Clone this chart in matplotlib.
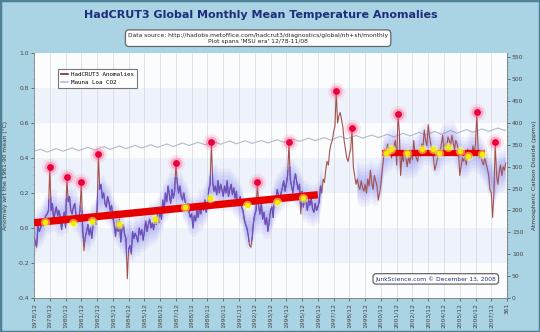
import numpy as np
import pandas as pd
import matplotlib
matplotlib.use("Agg")
import matplotlib.pyplot as plt
from matplotlib.patches import Rectangle
from matplotlib.lines import Line2D
from matplotlib.ticker import MultipleLocator

plt.rcParams['axes.unicode_minus'] = False

# HadCRUT3 monthly anomalies (deg C), 1978/12 .. 2008/11
anom = [
    -0.05,                                                                        # 1978/12
    -0.08, -0.11, 0.02, -0.02, 0.00, 0.03, 0.01, 0.05, 0.07, 0.08, 0.10, 0.35,    # 1979
    0.10, 0.14, 0.04, 0.09, 0.12, 0.07, 0.10, 0.06, -0.01, 0.05, 0.09, 0.00,      # 1980
    0.29, 0.15, 0.18, 0.10, 0.08, 0.12, 0.14, 0.07, 0.03, 0.05, 0.10, 0.26,       # 1981
    0.00, -0.13, -0.05, -0.02, 0.02, -0.04, 0.00, -0.06, 0.03, 0.05, 0.02, 0.10,  # 1982
    0.42, 0.22, 0.25, 0.17, 0.20, 0.14, 0.12, 0.18, 0.15, 0.10, 0.13, 0.06,       # 1983
    0.02, -0.05, 0.04, -0.02, 0.05, -0.08, 0.00, 0.02, -0.04, -0.06, -0.29, -0.12,  # 1984
    -0.10, -0.15, -0.02, -0.06, -0.03, -0.05, -0.08, 0.00, -0.04, -0.01, -0.07, -0.02,  # 1985
    0.04, -0.02, 0.02, 0.05, 0.00, 0.03, -0.01, 0.06, 0.02, 0.08, 0.03, 0.10,     # 1986
    0.05, 0.16, 0.10, 0.20, 0.15, 0.24, 0.19, 0.14, 0.22, 0.17, 0.21, 0.37,       # 1987
    0.26, 0.20, 0.24, 0.18, 0.16, 0.20, 0.15, 0.12, 0.14, 0.09, 0.06, 0.08,       # 1988
    0.00, 0.07, 0.04, 0.10, 0.06, 0.12, 0.08, 0.14, 0.10, 0.16, 0.09, 0.13,       # 1989
    0.22, 0.25, 0.49, 0.26, 0.21, 0.24, 0.19, 0.27, 0.20, 0.25, 0.22, 0.18,       # 1990
    0.24, 0.20, 0.27, 0.18, 0.22, 0.25, 0.19, 0.23, 0.17, 0.21, 0.13, 0.16,       # 1991
    0.18, 0.12, 0.10, 0.05, 0.02, 0.00, -0.04, -0.10, -0.11, -0.06, 0.03, 0.08,   # 1992
    0.10, 0.26, 0.12, 0.08, 0.14, 0.05, 0.09, 0.02, 0.06, -0.02, 0.04, 0.10,      # 1993
    0.12, 0.06, 0.18, 0.15, 0.22, 0.19, 0.16, 0.20, 0.23, 0.27, 0.21, 0.25,       # 1994
    0.30, 0.49, 0.28, 0.24, 0.20, 0.27, 0.31, 0.26, 0.22, 0.25, 0.08, 0.21,       # 1995
    0.12, 0.18, 0.15, 0.10, 0.16, 0.13, 0.17, 0.11, 0.09, 0.14, 0.10, 0.12,       # 1996
    0.15, 0.24, 0.20, 0.28, 0.26, 0.33, 0.38, 0.36, 0.44, 0.48, 0.50, 0.55,       # 1997
    0.58, 0.78, 0.60, 0.64, 0.66, 0.62, 0.58, 0.50, 0.45, 0.40, 0.38, 0.42,       # 1998
    0.45, 0.57, 0.35, 0.30, 0.25, 0.28, 0.24, 0.22, 0.27, 0.23, 0.21, 0.25,       # 1999
    0.20, 0.28, 0.24, 0.33, 0.26, 0.22, 0.30, 0.27, 0.24, 0.16, 0.20, 0.25,       # 2000
    0.33, 0.40, 0.45, 0.42, 0.48, 0.44, 0.46, 0.40, 0.43, 0.47, 0.50, 0.36,       # 2001
    0.65, 0.55, 0.30, 0.42, 0.38, 0.44, 0.40, 0.35, 0.41, 0.37, 0.43, 0.39,       # 2002
    0.50, 0.42, 0.40, 0.38, 0.45, 0.41, 0.48, 0.46, 0.56, 0.50, 0.47, 0.59,       # 2003
    0.52, 0.48, 0.44, 0.40, 0.33, 0.36, 0.40, 0.45, 0.42, 0.48, 0.53, 0.44,       # 2004
    0.48, 0.46, 0.52, 0.50, 0.47, 0.53, 0.49, 0.45, 0.50, 0.48, 0.44, 0.30,       # 2005
    0.35, 0.40, 0.38, 0.42, 0.36, 0.45, 0.41, 0.44, 0.40, 0.47, 0.43, 0.48,       # 2006
    0.66, 0.44, 0.40, 0.42, 0.38, 0.36, 0.40, 0.37, 0.34, 0.30, 0.22, 0.20,       # 2007
    0.06, 0.20, 0.49, 0.30, 0.25, 0.32, 0.36, 0.30, 0.35, 0.33, 0.37,             # 2008
]

# Mauna Loa CO2 (ppmv): start, then May peak / Oct trough each year, end
co2_month = [1, 6, 11, 18, 23, 30, 35, 42, 47, 54, 59, 66, 71, 78, 83, 90, 95,
             102, 107, 114, 119, 126, 131, 138, 143, 150, 155, 162, 167, 174, 179,
             186, 191, 198, 203, 210, 215, 222, 227, 234, 239, 246, 251, 258, 263,
             270, 275, 282, 287, 294, 299, 306, 311, 318, 323, 330, 335, 342, 347,
             354, 359, 360]
co2_ppm = [335.5, 340.0, 333.6, 341.5, 335.5, 343.0, 336.9, 344.3, 338.3, 345.9, 339.9,
           347.5, 341.4, 348.9, 342.9, 350.4, 344.2, 352.1, 346.2, 354.3, 348.6,
           355.9, 350.1, 357.1, 351.4, 358.9, 352.5, 359.4, 353.4, 359.9, 354.2,
           361.7, 355.8, 363.6, 357.8, 365.4, 359.6, 366.6, 360.6, 369.6, 363.8,
           371.3, 365.3, 372.4, 366.7, 374.0, 368.3, 376.3, 370.4, 378.6, 372.8,
           380.5, 374.1, 382.6, 376.7, 384.9, 378.8, 386.4, 380.8, 388.5, 382.9, 384.0]

# trend segments (month index, anomaly)
trend1_m = [1, 217]
trend1_v = [0.03, 0.19]
trend2_m = [266, 344]
trend2_v = [0.43, 0.43]

# yellow crossing dots
dot_m = [9, 31, 45, 66, 93, 116, 135, 163, 186, 206,
         269, 273, 285, 296, 305, 309, 316, 325, 331, 342]
dot_v = [0.035, 0.03, 0.04, 0.02, 0.05, 0.12, 0.17, 0.13, 0.15, 0.17,
         0.43, 0.45, 0.43, 0.45, 0.45, 0.43, 0.46, 0.44, 0.41, 0.42]

# monthly spikes marked with pink blobs
spike_m = [13, 26, 37, 50, 109, 136, 171, 195, 231, 243, 278, 338, 352]

tick_pos = list(range(1, 362, 12))
tick_labels = [f"{y}/12" for y in range(1978, 2008)] + ["361"]

months = np.arange(1, len(anom) + 1)
anom = np.array(anom)

fig = plt.figure(figsize=(5.4, 3.32), dpi=100, facecolor='#aad3e3')
fig.patches.append(Rectangle((0, 0), 1, 1, transform=fig.transFigure, fill=False,
                             edgecolor='#4f8196', lw=2.5))

ax = fig.add_axes([0.063, 0.1024, 0.876, 0.738])
ax2 = ax.twinx()
ax.set_zorder(2)
ax2.set_zorder(1)
ax2.patch.set_visible(True)
ax2.patch.set_facecolor('#fbfcfe')
ax.patch.set_visible(False)

ax.set_xlim(1, 361)
ax.set_ylim(-0.4, 1.0)
ax2.set_ylim(0, 560)

# horizontal bands and vertical grid
for lo in [-0.2, 0.2, 0.6]:
    ax.axhspan(lo, lo + 0.2, color='#eef2fa', zorder=0, lw=0)
for p in tick_pos:
    ax.axvline(p, color='#dcdce4', lw=0.6, zorder=0.5)

# CO2 on right scale, drawn inside main axes
ax.plot(co2_month, co2_ppm, color='#b0bccb', lw=0.8, transform=ax2.transData, zorder=1)

# blue glow around smoothed series
smooth = pd.Series(anom).rolling(9, center=True, min_periods=1).median().to_numpy()
smooth[(months >= 221) & (months <= 246)] = np.nan
for w, a in [(0.12, 0.08), (0.10, 0.09), (0.08, 0.10), (0.06, 0.11), (0.04, 0.12), (0.02, 0.12)]:
    ax.fill_between(months, smooth - w, smooth + w, color='#7a7af0', alpha=a, lw=0, zorder=1.5)
band = ax.fill_between(months, smooth - 0.08, smooth + 0.08, color='none', lw=0)

ax.plot(months, anom, color='#a4524f', lw=0.8, zorder=2)
purple, = ax.plot(months, anom, color='#6250cc', lw=0.8, zorder=2.1)
purple.set_clip_path(band.get_paths()[0], ax.transData)

ax.plot(trend1_m, trend1_v, color='#e60000', lw=5.3, solid_capstyle='butt', zorder=3)
ax.plot(trend2_m, trend2_v, color='#e60000', lw=4.5, solid_capstyle='butt', zorder=3)

ax.scatter(dot_m, dot_v, s=45, color='#ffff90', alpha=0.5, lw=0, zorder=4)
ax.scatter(dot_m, dot_v, s=16, color='#f2ec00', lw=0, zorder=4.1)

sm = np.array(spike_m)
sv = anom[sm - 1]
ax.scatter(sm, sv, s=150, color='#ff7fa8', alpha=0.18, lw=0, zorder=5)
ax.scatter(sm, sv, s=70, color='#ff5080', alpha=0.35, lw=0, zorder=5.1)
ax.scatter(sm, sv, s=24, color='#e8003f', lw=0, zorder=5.2)

# axes styling
ax.set_xticks(tick_pos)
ax.set_xticklabels(tick_labels, rotation=90, fontsize=4.3, color='#333333')
ax.yaxis.set_major_locator(MultipleLocator(0.2))
ax.yaxis.set_minor_locator(MultipleLocator(0.05))
ax.set_yticks([-0.4, -0.2, 0.0, 0.2, 0.4, 0.6, 0.8, 1.0])
ax.set_yticklabels(['-0.4', '-0.2', '0.0', '0.2', '0.4', '0.6', '0.8', '1.0'])
ax2.yaxis.set_major_locator(MultipleLocator(50))
ax2.yaxis.set_minor_locator(MultipleLocator(10))
ax2.set_yticks(range(0, 551, 50))
for a in (ax, ax2):
    a.tick_params(labelsize=4.3, colors='#444444', length=2, width=0.5, pad=1.5)
    a.tick_params(which='minor', length=1, width=0.4, colors='#777777')
    for s in a.spines.values():
        s.set_color('#888888')
        s.set_linewidth(0.6)
    a.spines['top'].set_visible(False)

ax.set_ylabel('Anomaly wrt the 1961-90 mean (\u00b0C)', fontsize=4.3, color='#333333', labelpad=7)
ax2.set_ylabel('Atmospheric Carbon Dioxide (ppmv)', fontsize=4.3, color='#333333', labelpad=6)

handles = [Line2D([], [], color='#7a2a2a', lw=1.2), Line2D([], [], color='#a9bfd5', lw=1.2)]
leg = ax.legend(handles, ['HadCRUT3 Anomalies', 'Mauna Loa CO2'], loc='upper left',
                bbox_to_anchor=(0.044, 0.945), prop={'family': 'DejaVu Sans Mono', 'size': 4.2},
                fancybox=False, framealpha=1, edgecolor='#777777', handlelength=1.2,
                borderpad=0.5, labelspacing=0.4, handletextpad=0.5)
leg.get_frame().set_linewidth(0.8)
leg.set_zorder(10)

fig.text(0.483, 0.955, 'HadCRUT3 Global Monthly Mean Temperature Anomalies',
         ha='center', va='center', fontsize=8.0, fontweight='bold', color='#1f2d7b')
fig.text(0.478, 0.885,
         'Data source: http://hadobs.metoffice.com/hadcrut3/diagnostics/global/nh+sh/monthly\n'
         "Plot spans 'MSU era' 12/78-11/08",
         ha='center', va='center', fontsize=4.3, color='#222222', linespacing=1.3,
         bbox=dict(boxstyle='round,pad=0.45,rounding_size=0.6', facecolor='white',
                   edgecolor='#666666', lw=0.9))
fig.text(0.807, 0.16, 'JunkScience.com \u00a9 December 13, 2008', ha='center', va='center',
         fontsize=4.3, color='#1f2d7b',
         bbox=dict(boxstyle='round,pad=0.4,rounding_size=0.5', facecolor='white',
                   edgecolor='#666666', lw=0.9))

fig.savefig('out.png', dpi=100, facecolor=fig.get_facecolor())
